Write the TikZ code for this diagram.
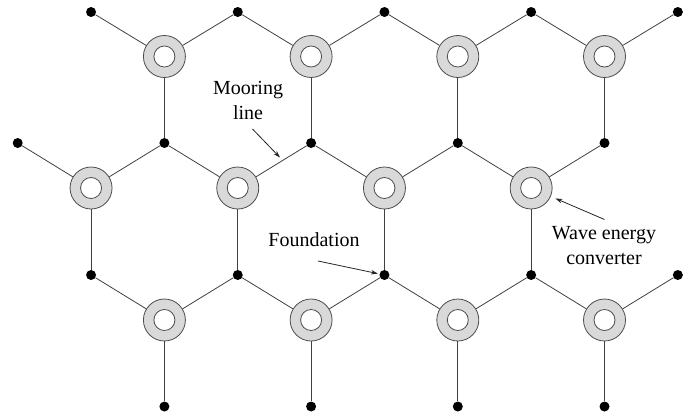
\documentclass[tikz,border=0pt]{standalone}
\usepackage{fontspec}
\setmainfont{Liberation Serif}
\newfontfamily\labelfont{Liberation Serif}
\usetikzlibrary{arrows.meta}
\tikzset{
  wec/.style={circle, draw=black!70, line width=0.8pt, fill=gray!30, minimum size=42pt, inner sep=0pt,
    path picture={\draw[black!70, line width=0.8pt, fill=white] (path picture bounding box.center) circle (10.5pt);}},
  fdot/.style={circle, fill=black, minimum size=10pt, inner sep=0pt},
  edge/.style={draw=black!75, line width=0.8pt},
  lbl/.style={font=\labelfont\fontsize{20}{25}\selectfont, align=center, inner sep=0pt},
  pointer/.style={draw=black!85, line width=0.8pt, -{Stealth[length=7pt,width=4.5pt]}}
}
\begin{document}
\begin{tikzpicture}[x=1pt,y=-1pt]
\useasboundingbox (0,0) rectangle (691,416);
% foundations
\foreach \k in {1,3,5,7,9} \node[fdot] (f0x\k) at ({17.7+73.35*\k},12) {};
\foreach \k in {0,2,4,6,8} \node[fdot] (f2x\k) at ({17.7+73.35*\k},143) {};
\foreach \k in {1,3,5,7,9} \node[fdot] (f4x\k) at ({17.7+73.35*\k},275) {};
\foreach \k in {2,4,6,8} \node[fdot] (f6x\k) at ({17.7+73.35*\k},406.5) {};
% wave energy converters
\foreach \k in {2,4,6,8} \node[wec] (w1x\k) at ({17.7+73.35*\k},56.5) {};
\foreach \k in {1,3,5,7} \node[wec] (w3x\k) at ({17.7+73.35*\k},188) {};
\foreach \k in {2,4,6,8} \node[wec] (w5x\k) at ({17.7+73.35*\k},320) {};
% mooring lines
\foreach \k [evaluate=\k as \a using int(\k-1), evaluate=\k as \b using int(\k+1)] in {2,4,6,8} {
  \draw[edge] (w1x\k) -- (f0x\a);
  \draw[edge] (w1x\k) -- (f0x\b);
  \draw[edge] (w1x\k) -- (f2x\k);
  \draw[edge] (w5x\k) -- (f4x\a);
  \draw[edge] (w5x\k) -- (f4x\b);
  \draw[edge] (w5x\k) -- (f6x\k);
}
\foreach \k [evaluate=\k as \a using int(\k-1), evaluate=\k as \b using int(\k+1)] in {1,3,5,7} {
  \draw[edge] (w3x\k) -- (f2x\a);
  \draw[edge] (w3x\k) -- (f2x\b);
  \draw[edge] (w3x\k) -- (f4x\k);
}
% labels
\node[lbl] (mlabel) at (248,100) {Mooring\\line};
\node[lbl] (flabel) at (314,240) {Foundation};
\node[lbl] (wlabel) at (604,246) {Wave energy\\converter};
\coordinate (mstart) at (252.5,129);
\coordinate (mend) at (280,157.5);
\coordinate (fstart) at (318,261);
\coordinate (wstart) at (604.5,219.5);
\draw[pointer] (mstart) -- (mend);
\draw[pointer, shorten >=1.5pt] (fstart) -- (f4x5);
\draw[pointer, shorten >=5pt] (wstart) -- (w3x7);
\end{tikzpicture}
\end{document}
